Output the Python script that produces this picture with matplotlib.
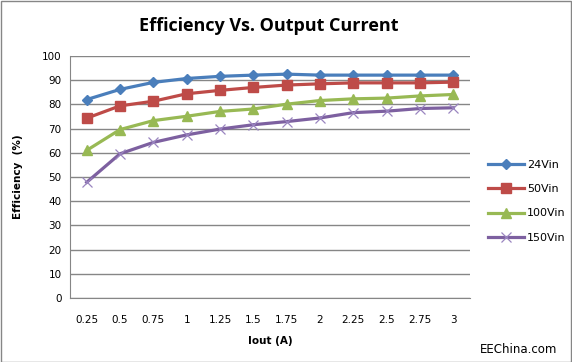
import numpy as np
import matplotlib.pyplot as plt

iout = ["0.25", "0.5", "0.75", "1", "1.25", "1.5", "1.75", "2", "2.25", "2.5", "2.75", "3"]
eff_24 = [82.0, 86.2, 89.1, 90.7, 91.6, 92.1, 92.5, 92.1, 92.1, 92.1, 92.1, 92.1]
eff_50 = [74.3, 79.4, 81.3, 84.4, 85.8, 87.0, 88.0, 88.5, 88.9, 88.9, 88.9, 89.2]
eff_100 = [61.0, 69.6, 73.3, 75.1, 77.1, 78.1, 80.1, 81.6, 82.3, 82.6, 83.5, 84.1]
eff_150 = [47.8, 59.6, 64.3, 67.4, 69.8, 71.6, 72.9, 74.4, 76.6, 77.2, 78.3, 78.6]

fig = plt.figure(figsize=(5.72, 3.62), dpi=100)
ax = fig.add_axes([0.1224, 0.1768, 0.6993, 0.6685])

x = np.arange(len(iout))
ax.plot(x, eff_24, color="#4A7EBB", marker="D", markersize=5.5, linewidth=2.3, label="24Vin")
ax.plot(x, eff_50, color="#BE4B48", marker="s", markersize=6.5, linewidth=2.3, label="50Vin")
ax.plot(x, eff_100, color="#98B954", marker="^", markersize=7, linewidth=2.3, label="100Vin")
ax.plot(x, eff_150, color="#7D60A0", marker="x", markersize=7, markeredgewidth=0.9,
        markeredgecolor="#9A85C0", linewidth=2.3, label="150Vin")

ax.set_xlim(-0.5, len(iout) - 0.5)
ax.set_ylim(0, 100)
ax.set_yticks(np.arange(0, 101, 10))
ax.set_xticks(x)
ax.set_xticklabels(iout)
ax.tick_params(length=0, labelsize=7.5, pad=6)
ax.tick_params(axis="x", pad=12)
ax.grid(axis="y", color="#868686", linewidth=1)
ax.set_axisbelow(True)
for s in ["top", "right"]:
    ax.spines[s].set_visible(False)
for s in ["left", "bottom"]:
    ax.spines[s].set_color("#868686")

ax.set_xlabel("Iout (A)", fontsize=7.5, fontweight="bold", labelpad=8)
ax.set_ylabel("Efficiency  (%)", fontsize=7.5, fontweight="bold", labelpad=14)
fig.text(0.47, 0.928, "Efficiency Vs. Output Current", ha="center", va="center",
         fontsize=13, fontweight="bold", family="Open Sans")

ax.legend(loc="center left", bbox_to_anchor=(1.02, 0.40), frameon=False,
          fontsize=8, handlelength=3.2, labelspacing=1.3, handletextpad=0.3)

fig.text(0.975, 0.035, "EEChina.com", ha="right", va="center", fontsize=8.5)

fig.patches.append(plt.Rectangle((0.001, 0.001), 0.997, 0.997, transform=fig.transFigure,
                                 fill=False, edgecolor="#868686", linewidth=1))
fig.savefig("out.png", dpi=100)
